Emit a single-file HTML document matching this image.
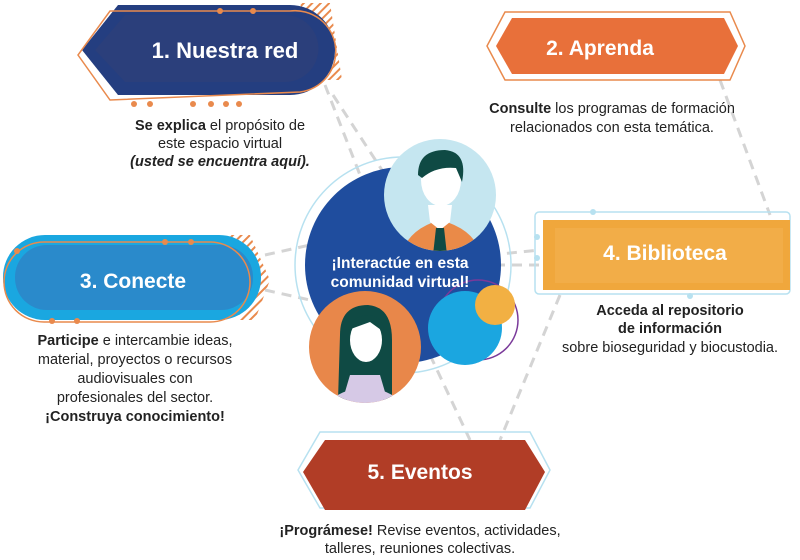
<!DOCTYPE html>
<html><head><meta charset="utf-8"><style>
html,body{margin:0;padding:0;background:#fff;width:800px;height:560px;overflow:hidden}
svg{display:block}
text{font-family:"Liberation Sans","DejaVu Sans",sans-serif}
</style></head><body>
<svg width="800" height="560" viewBox="0 0 800 560">
<defs>
<pattern id="hatch" width="6" height="6" patternUnits="userSpaceOnUse" patternTransform="rotate(45)">
<rect width="2" height="6" fill="#e98a4d"/></pattern>
<clipPath id="cm"><circle cx="440" cy="195" r="56"/></clipPath>
<clipPath id="cw"><circle cx="365" cy="347" r="56"/></clipPath>
</defs>
<g stroke="#d4d4d4" stroke-width="3" stroke-dasharray="10,7" fill="none">
<line x1="325" y1="85" x2="360" y2="175"/>
<line x1="333" y1="95" x2="395" y2="190"/>
<line x1="265" y1="290" x2="310" y2="300"/>
<line x1="265" y1="255" x2="310" y2="245"/>
<line x1="490" y1="255" x2="540" y2="250"/>
<line x1="495" y1="265" x2="540" y2="265"/>
<line x1="720" y1="80" x2="770" y2="215"/>
<line x1="560" y1="295" x2="500" y2="440"/>
<line x1="430" y1="355" x2="470" y2="440"/>
</g>
<!-- Box 1 -->
<path d="M300 3 L330 3 L342 80 L320 80 Z" fill="url(#hatch)"/>
<path d="M118 5 L290 5 A42 42 0 0 1 290 95 L118 95 L82 50 Z" fill="#243e80"/>
<path d="M125 15 L285 15 A33 33 0 0 1 285 82 L125 82 L95 50 Z" fill="#2b3f7b"/>
<path d="M110 11 L290 11 A40 40 0 0 1 300 92 L110 100 L78 55 Z" fill="none" stroke="#e98a4d" stroke-width="1.5"/>
<g fill="#e98a4d"><circle cx="220" cy="11" r="3"/><circle cx="253" cy="11" r="3"/><circle cx="134" cy="104" r="3"/><circle cx="150" cy="104" r="3"/><circle cx="193" cy="104" r="3"/><circle cx="211" cy="104" r="3"/><circle cx="226" cy="104" r="3"/><circle cx="239" cy="104" r="3"/></g>
<text x="225" y="58" fill="#fff" font-size="22" font-weight="bold" text-anchor="middle">1.  Nuestra red</text>
<g font-size="14.5" text-anchor="middle" fill="#222">
<text x="220" y="130"><tspan font-weight="bold">Se explica</tspan> el propósito de</text>
<text x="220" y="148">este espacio virtual</text>
<text x="220" y="166" font-weight="bold" font-style="italic">(usted se encuentra aquí).</text>
</g>
<!-- Box 2 -->
<path d="M505 12 L730 12 L745 46 L730 80 L505 80 L487 46 Z" fill="#fff" stroke="#e98a4d" stroke-width="1.5"/>
<path d="M512 18 L724 18 L738 46 L724 74 L512 74 L496 46 Z" fill="#e8703a"/>
<text x="600" y="55" fill="#fff" font-size="21" font-weight="bold" text-anchor="middle">2. Aprenda</text>
<g font-size="14.5" text-anchor="middle" fill="#222">
<text x="612" y="113"><tspan font-weight="bold">Consulte</tspan> los programas de formación</text>
<text x="612" y="132">relacionados con esta temática.</text>
</g>
<!-- Box 3 -->
<path d="M230 235 L250 235 L270 280 L255 320 L240 320 Z" fill="url(#hatch)"/>
<rect x="3" y="235" width="258" height="85" rx="42" fill="#1aa7e0"/>
<rect x="15" y="245" width="238" height="65" rx="32" fill="#2a8acb"/>
<rect x="4" y="242" width="246" height="80" rx="40" fill="none" stroke="#e98a4d" stroke-width="1.5"/>
<g fill="#e98a4d"><circle cx="17" cy="251" r="3"/><circle cx="165" cy="242" r="3"/><circle cx="191" cy="242" r="3"/><circle cx="52" cy="321" r="3"/><circle cx="77" cy="321" r="3"/></g>
<text x="133" y="288" fill="#fff" font-size="21" font-weight="bold" text-anchor="middle">3. Conecte</text>
<g font-size="14.5" text-anchor="middle" fill="#222">
<text x="135" y="345"><tspan font-weight="bold">Participe</tspan> e intercambie ideas,</text>
<text x="135" y="364">material, proyectos o recursos</text>
<text x="135" y="383">audiovisuales con</text>
<text x="135" y="402">profesionales del sector.</text>
<text x="135" y="421" font-weight="bold">¡Construya conocimiento!</text>
</g>
<!-- Box 4 -->
<rect x="535" y="212" width="255" height="82" fill="none" stroke="#b7e1f0" stroke-width="1.5" rx="4"/>
<rect x="543" y="220" width="247" height="70" fill="#f0a73c"/>
<rect x="555" y="228" width="228" height="55" fill="#f2ad48"/>
<g fill="#b7e1f0"><circle cx="537" cy="237" r="3"/><circle cx="537" cy="258" r="3"/><circle cx="593" cy="212" r="3"/><circle cx="690" cy="296" r="3"/></g>
<text x="665" y="260" fill="#fff" font-size="21" font-weight="bold" text-anchor="middle">4. Biblioteca</text>
<g font-size="14.5" text-anchor="middle" fill="#222">
<text x="670" y="315" font-weight="bold">Acceda al repositorio</text>
<text x="670" y="333" font-weight="bold">de información</text>
<text x="670" y="352">sobre bioseguridad y biocustodia.</text>
</g>
<!-- Box 5 -->
<path d="M320 432 L530 432 L550 470 L530 508 L320 508 L298 470 Z" fill="none" stroke="#b7e1f0" stroke-width="1.5"/>
<path d="M325 440 L525 440 L545 472 L525 510 L325 510 L303 472 Z" fill="#b13d26"/>
<text x="420" y="479" fill="#fff" font-size="21" font-weight="bold" text-anchor="middle">5. Eventos</text>
<g font-size="14.5" text-anchor="middle" fill="#222">
<text x="420" y="535"><tspan font-weight="bold">¡Prográmese!</tspan> Revise eventos, actividades,</text>
<text x="420" y="553">talleres, reuniones colectivas.</text>
</g>
<!-- Center -->
<circle cx="403" cy="265" r="108" fill="none" stroke="#b7e1f0" stroke-width="1.5"/>
<circle cx="403" cy="265" r="98" fill="#1f4d9e"/>
<circle cx="440" cy="195" r="56" fill="#c5e6f0"/>
<g clip-path="url(#cm)">
<path d="M400 260 Q405 230 440 220 Q478 230 482 260 Z" fill="#ea8a48"/>
<path d="M428 205 L452 205 L450 222 L440 230 L430 222 Z" fill="#fff"/>
<path d="M436 228 L444 228 L447 255 L433 255 Z" fill="#0f4a44"/>
<ellipse cx="441" cy="180" rx="20" ry="26" fill="#fff"/>
<path d="M418 175 Q418 150 445 150 Q468 152 462 182 L456 168 Q436 166 422 178 Z" fill="#0f4a44"/>
</g>
<circle cx="365" cy="347" r="56" fill="#e8874a"/>
<g clip-path="url(#cw)">
<path d="M340 335 Q340 305 368 305 Q392 307 392 340 L392 400 L338 400 Z" fill="#0f4a44"/>
<path d="M330 400 Q365 375 400 400 L400 410 L330 410 Z" fill="#d6c9e6"/>
<path d="M350 375 L380 375 L385 392 Q365 398 345 392 Z" fill="#d6c9e6"/>
<ellipse cx="366" cy="340" rx="16" ry="22" fill="#fff"/>
<path d="M348 330 Q352 315 370 315 Q384 318 384 332 L370 322 Z" fill="#0f4a44"/>
</g>
<circle cx="478" cy="320" r="40" fill="none" stroke="#7a3a9a" stroke-width="1.5"/>
<circle cx="465" cy="328" r="37" fill="#1ba6e0"/>
<circle cx="495" cy="305" r="20" fill="#f2b043"/>
<text x="400" y="268" fill="#fff" font-size="15.5" font-weight="bold" text-anchor="middle">¡Interactúe en esta</text>
<text x="400" y="287" fill="#fff" font-size="15.5" font-weight="bold" text-anchor="middle">comunidad virtual!</text>
</svg>
</body></html>
